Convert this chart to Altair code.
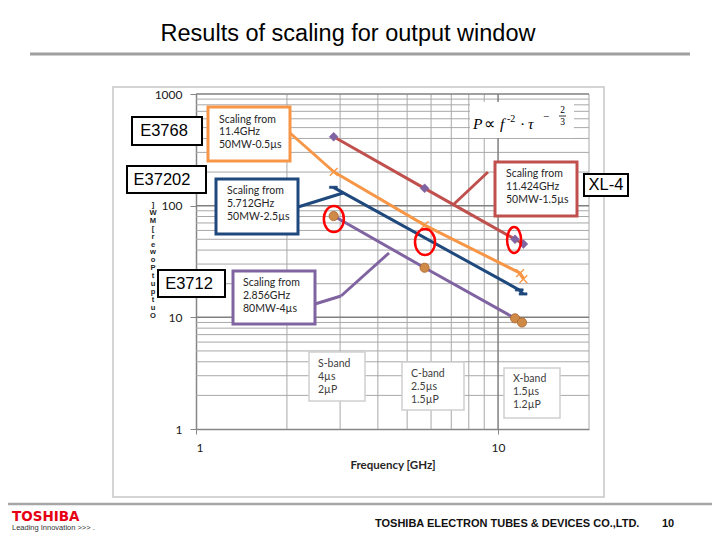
import altair as alt
import pandas as pd

# ---------------- data ----------------
series_names = [
    "Scaling from 11.424GHz 50MW-1.5µs",
    "Scaling from 11.4GHz 50MW-0.5µs",
    "Scaling from 5.712GHz 50MW-2.5µs",
    "Scaling from 2.856GHz 80MW-4µs",
]
series_colors = ["#C0504D", "#F79646", "#1F497D", "#8064A2"]

maroon_freq = [2.856, 5.712, 11.38, 12.13]
maroon_power = [414, 143, 50, 45.3]
orange_freq = [2.856, 5.712, 11.83, 12.13]
orange_power = [201, 67, 24.9, 22.0]
navy_freq = [2.85, 11.75, 12.1]
navy_power = [146, 17.6, 16.2]
purple_freq = [2.856, 5.712, 11.38, 12.0]
purple_power = [80.7, 27.8, 9.8, 9.0]

ellipse_freq = [2.86, 5.73, 11.3]
ellipse_power = [75.9, 47.2, 49.2]

x_tick_values = [1, 10]
y_tick_values = [1, 10, 100, 1000]
x_grid_minor = [2, 3, 4, 5, 6, 7, 8, 9, 20]
x_grid_major = [10]
y_grid_minor = [2, 3, 4, 5, 6, 7, 8, 9, 20, 30, 40, 50, 60, 70, 80, 90,
                200, 300, 400, 500, 600, 700, 800, 900]
y_grid_major = [10, 100, 1000]

rows = []
for name, fs, ps in zip(series_names,
                        [maroon_freq, orange_freq, navy_freq, purple_freq],
                        [maroon_power, orange_power, navy_power, purple_power]):
    for f, p in zip(fs, ps):
        rows.append({"series": name, "freq": f, "power": p})
df = pd.DataFrame(rows)
ell_df = pd.DataFrame({"freq": ellipse_freq, "power": ellipse_power, "i": [0, 1, 2]})
one = pd.DataFrame({"k": [0]})

# ---------------- scales / axes ----------------
OX, OY = 196, 94          # page position of plot origin
W, H = 393, 335

SANS = "Liberation Sans"
CAL = "Lato"
SERIF = "Liberation Serif"

xscale = alt.Scale(type="log", domain=[1, 20], nice=False)
yscale = alt.Scale(type="log", domain=[1, 1000], nice=False)
xaxis = alt.Axis(values=x_tick_values, format=".0f", grid=False,
                 domainColor="#868686", domainWidth=1.5, tickColor="#868686",
                 tickSize=5, labelFont=CAL, labelFontSize=12, labelColor="#1a1a1a",
                 labelPadding=8, title="Frequency [GHz]", titleFont=CAL,
                 titleFontSize=11.5, titleFontWeight="bold", titleColor="#262626",
                 titlePadding=6)
yaxis = alt.Axis(values=y_tick_values, format=".0f", grid=False, title=None,
                 domainColor="#868686", domainWidth=1.5, tickColor="#868686",
                 tickSize=6, labelFont=CAL, labelFontSize=12, labelColor="#1a1a1a",
                 labelPadding=8)


def X(field):
    return alt.X(field + ":Q", scale=xscale, axis=xaxis)


def Y(field):
    return alt.Y(field + ":Q", scale=yscale, axis=yaxis)


# ---------------- helpers for slide decorations ----------------
def T(x, y, s, size, font=SANS, weight="normal", style="normal", color="#000000",
      align="left", baseline="alphabetic", lh=None):
    kw = dict(font=font, fontSize=size, fontWeight=weight, fontStyle=style,
              color=color, align=align, baseline=baseline)
    if lh is not None:
        kw["lineHeight"] = lh
        kw["lineBreak"] = "\n"
    return alt.Chart(one).mark_text(**kw).encode(
        x=alt.value(x - OX), y=alt.value(y - OY), text=alt.value(s))


def R(x1, y1, x2, y2, color, w):
    return alt.Chart(one).mark_rule(stroke=color, strokeWidth=w).encode(
        x=alt.value(x1 - OX), y=alt.value(y1 - OY),
        x2=alt.value(x2 - OX), y2=alt.value(y2 - OY))


def B(x1, y1, x2, y2, stroke, w, fill="white", fo=1.0):
    return alt.Chart(one).mark_rect(fill=fill, fillOpacity=fo, stroke=stroke,
                                    strokeWidth=w).encode(
        x=alt.value(x1 - OX), y=alt.value(y1 - OY),
        x2=alt.value(x2 - OX), y2=alt.value(y2 - OY))


def ellipse_path(k):
    c = 0.5523
    return (f"M{k},0 C{k},{c} {k*c:.3f},1 0,1 C{-k*c:.3f},1 {-k},{c} {-k},0 "
            f"C{-k},{-c} {-k*c:.3f},-1 0,-1 C{k*c:.3f},-1 {k},{-c} {k},0 Z")


layers = []

# chart panel border
layers.append(B(113, 87, 604, 497, "#C8C8C8", 1.5, fo=0))

# gridlines
layers.append(alt.Chart(pd.DataFrame({"f": x_grid_minor})).mark_rule(
    stroke="#A8A8A8", strokeWidth=1).encode(x=X("f")))
layers.append(alt.Chart(pd.DataFrame({"p": y_grid_minor})).mark_rule(
    stroke="#A8A8A8", strokeWidth=1).encode(y=Y("p")))
layers.append(alt.Chart(pd.DataFrame({"f": x_grid_major})).mark_rule(
    stroke="#808080", strokeWidth=1.5).encode(x=X("f")))
layers.append(alt.Chart(pd.DataFrame({"p": y_grid_major})).mark_rule(
    stroke="#808080", strokeWidth=1.5).encode(y=Y("p")))

# series lines
layers.append(alt.Chart(df).mark_line(strokeWidth=3).encode(
    x=X("freq"), y=Y("power"),
    color=alt.Color("series:N", scale=alt.Scale(domain=series_names, range=series_colors),
                    legend=None)))

# markers
layers.append(alt.Chart(df).transform_filter(alt.datum.series == series_names[0]).mark_point(
    shape="diamond", filled=True, size=80, fill="#8064A2", stroke="#8064A2",
    strokeWidth=0.5, opacity=1).encode(x=X("freq"), y=Y("power")))
layers.append(alt.Chart(df).transform_filter(alt.datum.series == series_names[1]).mark_point(
    shape="M-1,-1L1,1M-1,1L1,-1", filled=False, size=60, stroke="#F79646",
    strokeWidth=1.3, opacity=1).encode(x=X("freq"), y=Y("power")))
layers.append(alt.Chart(df).transform_filter(alt.datum.series == series_names[2]).mark_point(
    shape="M-1,-0.3L1,-0.3L1,0.3L-1,0.3Z", filled=True, size=64, fill="#1F497D",
    stroke="#1F497D", strokeWidth=0.5, opacity=1).encode(x=X("freq"), y=Y("power")))
layers.append(alt.Chart(df).transform_filter(alt.datum.series == series_names[3]).mark_point(
    shape="circle", filled=True, size=85, fill="#D08A48", stroke="#A9652D",
    strokeWidth=0.8, opacity=1).encode(x=X("freq"), y=Y("power")))

# formula box
layers.append(B(470, 102, 574, 138, "white", 0))
layers.append(T(473, 129, "P", 15.5, font=SERIF, style="italic"))
layers.append(T(484, 129, "∝", 15.5, font=SERIF))
layers.append(T(500, 129, "f", 15.5, font=SERIF, style="italic"))
layers.append(T(507, 122, "-2", 10, font=SERIF))
layers.append(T(520, 129, "·", 15.5, font=SERIF))
layers.append(T(528, 129, "τ", 15.5, font=SERIF, style="italic"))
layers.append(T(543, 119.5, "−", 11, font=SERIF))
layers.append(T(562.5, 113, "2", 9.5, font=SERIF, align="center"))
layers.append(R(559, 116, 566, 116, "#000000", 0.8))
layers.append(T(562.5, 124.5, "3", 9.5, font=SERIF, align="center"))

# callout boxes
TXT = "#262626"
layers.append(B(208, 107, 290, 161, "#F79646", 3))
layers.append(T(219, 114.5, "Scaling from\n11.4GHz\n50MW-0.5µs", 10.5, font=CAL,
                color=TXT, baseline="top", lh=12.7))
layers.append(B(216, 179, 298, 234, "#1F497D", 3))
layers.append(T(227, 185.5, "Scaling from\n5.712GHz\n50MW-2.5µs", 10.5, font=CAL,
                color=TXT, baseline="top", lh=13))
layers.append(B(233, 271, 315, 324, "#8064A2", 3))
layers.append(T(243, 277.5, "Scaling from\n2.856GHz\n80MW-4µs", 10.5, font=CAL,
                color=TXT, baseline="top", lh=13))
layers.append(B(495, 162, 577, 216, "#C0504D", 3))
layers.append(T(506, 168.5, "Scaling from\n11.424GHz\n50MW-1.5µs", 10.5, font=CAL,
                color=TXT, baseline="top", lh=13))

# leader lines
layers.append(R(290, 133, 334, 172, "#F79646", 3))
layers.append(R(298, 207, 343, 193, "#1F497D", 3))
layers.append(R(315, 304, 341, 296, "#8064A2", 3))
layers.append(R(341, 296, 389, 253, "#8064A2", 3))
layers.append(R(488, 172, 454, 204, "#C0504D", 3))

# band boxes
layers.append(B(309, 352, 365, 401, "#CFCFCF", 1.5))
layers.append(T(318, 358.5, "S-band\n4µs\n2µP", 10.5, font=CAL, color="#404040",
                baseline="top", lh=13))
layers.append(B(402, 362, 464, 410, "#CFCFCF", 1.5))
layers.append(T(411, 368.5, "C-band\n2.5µs\n1.5µP", 10.5, font=CAL, color="#404040",
                baseline="top", lh=13.3))
layers.append(B(504, 368, 560, 418, "#CFCFCF", 1.5))
layers.append(T(513, 373.5, "X-band\n1.5µs\n1.2µP", 10.5, font=CAL, color="#404040",
                baseline="top", lh=13))

# tube label boxes
layers.append(B(132, 117, 202, 145, "#000000", 2))
layers.append(T(164, 131, "E3768", 16.5, baseline="middle", align="center"))
layers.append(B(127, 166, 206, 193, "#000000", 2))
layers.append(T(162, 179.5, "E37202", 16.5, baseline="middle", align="center"))
layers.append(B(158, 270, 225, 297, "#000000", 2))
layers.append(T(189, 283.5, "E3712", 16.5, baseline="middle", align="center"))
layers.append(B(584, 174, 628, 196, "#000000", 2))
layers.append(T(606, 185, "XL-4", 16.5, baseline="middle", align="center"))

# red highlight ellipses
layers.append(alt.Chart(ell_df).transform_filter(alt.datum.i < 2).mark_point(
    shape=ellipse_path(0.77), filled=False, size=676, stroke="#FF0000",
    strokeWidth=2.5, opacity=1).encode(x=X("freq"), y=Y("power")))
layers.append(alt.Chart(ell_df).transform_filter(alt.datum.i == 2).mark_point(
    shape=ellipse_path(0.54), filled=False, size=676, stroke="#FF0000",
    strokeWidth=2.5, opacity=1).encode(x=X("freq"), y=Y("power")))

# vertical y-axis title, stacked letters as in the slide
layers.append(T(153, 201, "]\nW\nM\n[\nr\ne\nw\no\nP\nt\nu\np\nt\nu\nO", 7.6,
                weight="bold", align="center", baseline="top", lh=7.9, color="#262626"))

# slide title + rules + footer
layers.append(T(348, 41, "Results of scaling for output window", 23.5, align="center"))
layers.append(R(30, 54, 690, 54, "#A0A0A0", 3))
layers.append(R(8, 504, 712, 504, "#A6A6A6", 2.5))
layers.append(T(12, 521, "TOSHIBA", 13.5, font="DejaVu Sans", weight="bold",
                color="#E60012"))
layers.append(T(12, 529.5, "Leading Innovation >>>   .", 7.5, color="#333333"))
layers.append(T(375, 527, "TOSHIBA ELECTRON TUBES & DEVICES CO.,LTD.", 11,
                weight="bold", color="#111111"))
layers.append(T(662, 527, "10", 11, weight="bold", color="#111111"))

chart = alt.layer(*layers).properties(
    width=W, height=H,
    padding={"left": OX - 8, "top": OY - 8, "right": 704 - (OX - 8) - W,
             "bottom": 524 - (OY - 8) - H},
    autosize=alt.AutoSizeParams(type="none"),
    background="white",
).configure_view(strokeWidth=0)

chart.save("out.html", embed_options={"renderer": "svg", "actions": False})
